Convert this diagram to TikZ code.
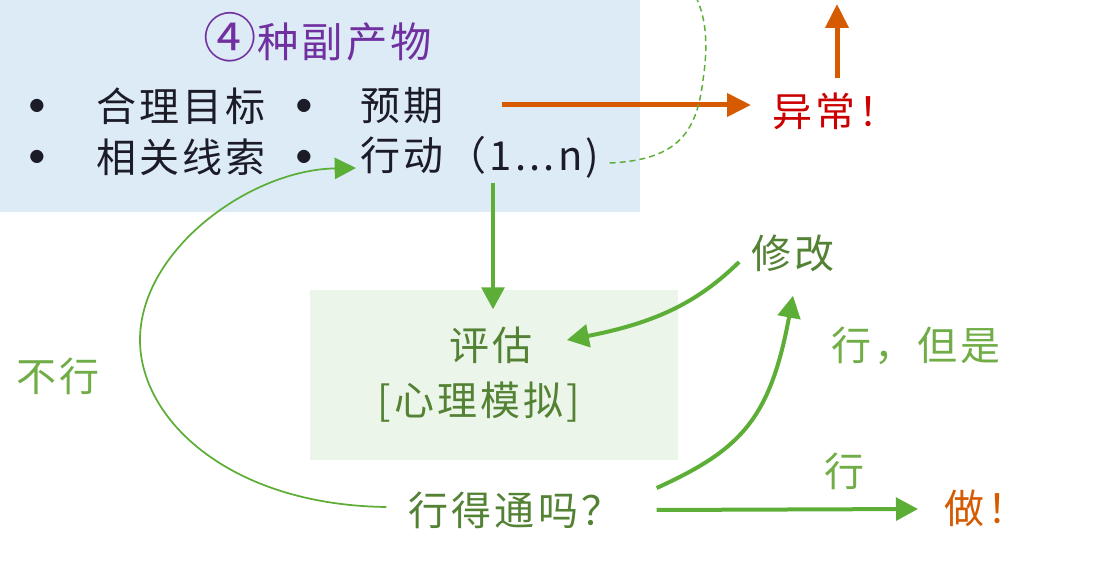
\documentclass[tikz,border=0pt]{standalone}
\usepackage{fontspec}
\usetikzlibrary{arrows.meta,calc}
\newfontfamily\cjk[LetterSpace=8]{Noto Sans CJK SC}
\newfontfamily\cjkplain{Noto Sans CJK SC}
\definecolor{bluebg}{RGB}{221,235,247}
\definecolor{greenbg}{RGB}{235,245,233}
\definecolor{arrgreen}{RGB}{93,174,55}
\definecolor{ltgreen}{RGB}{112,173,71}
\definecolor{dkgreen}{RGB}{84,130,53}
\definecolor{orangeC}{RGB}{213,90,0}
\definecolor{redC}{RGB}{204,0,0}
\definecolor{purpleC}{RGB}{112,48,160}
\definecolor{inkC}{RGB}{28,28,40}
\tikzset{
  lbl/.style={inner sep=0pt, text=inkC, font=\cjk\fontsize{30}{36}\selectfont},
  dot/.style={inner sep=0pt, text=inkC, font=\cjkplain\fontsize{11}{11}\selectfont},
  oarrow/.style={draw=orangeC, line width=3.75pt, -{Triangle[length=18pt,width=17pt]}},
  garrow/.style={draw=arrgreen, line width=3pt, -{Triangle[length=16.5pt,width=17pt]}},
  gthin/.style={draw=arrgreen, line width=1.3pt, -{Triangle[length=16pt,width=16pt]}},
  gdash/.style={draw=arrgreen, line width=1.1pt, dash pattern=on 4.5pt off 3pt},
}
\begin{document}
\begin{tikzpicture}[x=0.75pt,y=-0.75pt]
\useasboundingbox (0,0) rectangle (1108,570);
\clip (0,0) rectangle (1108,570);
\fill[bluebg] (0,0) rectangle (640,212);
\fill[greenbg] (310,290) rectangle (678,460);

\node[lbl, text=purpleC, font=\cjk\fontsize{31}{36}\selectfont] (title) at (318,37) {{\fontsize{40}{40}\selectfont ④}种副产物};
\node[dot] (b1) at (37,106) {●};
\node[lbl, anchor=west] (goal) at (96,106) {合理目标};
\node[dot] (b2) at (304,106) {●};
\node[lbl, anchor=west] (expect) at (360,106) {预期};
\node[dot] (b3) at (37,157) {●};
\node[lbl, anchor=west] (cues) at (96,157) {相关线索};
\node[dot] (b4) at (304,157) {●};
\node[lbl, anchor=west] (act) at (360,157) {行动（1...n)};

\node[lbl, text=redC, anchor=west] (anom) at (772,111) {异常！};
\coordinate (upx) at (837,4);
\draw[oarrow] ($(anom.north -| upx)+(0,-14)$) -- (upx);
\draw[oarrow] ($(expect.east)+(58,-1)$) -- ($(anom.west |- expect.east)+(-21,-1)$);

\draw[gdash] ($(act.east)+(10,6)$) .. controls (680,160) and (697,130) .. (703,80) .. controls (709,40) and (705,15) .. (695,-5);

\node[lbl, text=dkgreen] (eval1) at (491,345) {评估};
\node[lbl, text=dkgreen] (eval2) at (479,402) {[心理模拟]};
\coordinate (dnx) at (493,0);
\draw[garrow] ($(act.south -| dnx)+(0,5)$) -- ($(eval1.north -| dnx)+(0,-17)$);

\node[lbl, text=dkgreen] (modify) at (793,253) {修改};
\draw[garrow] ($(modify.west)+(-12,9)$) .. controls (700,300) and (660,322) .. ($(eval1.east)+(34,-5)$);

\node[lbl, text=dkgreen] (works) at (515,510) {行得通吗？};
\draw[gthin] ($(works.west)+(-22,-3)$) .. controls (230,505) and (140,420) .. (140,340) .. controls (140,250) and (250,170) .. ($(act.west)+(-4,11)$);

\node[lbl, text=ltgreen] (no) at (58,376) {不行};
\node[lbl, text=ltgreen] (yesbut) at (916,346) {行，但是};
\node[lbl, text=ltgreen] (yes) at (844,471) {行};
\node[lbl, text=orangeC, anchor=west] (do) at (944,508) {做！};

\draw[garrow] ($(works.east)+(35,-22)$) .. controls (740,450) and (770,420) .. ($(modify.south)+(0,24)$);
\draw[garrow] ($(works.east)+(35,0)$) -- ($(do.west)+(-26,1)$);
\end{tikzpicture}
\end{document}
